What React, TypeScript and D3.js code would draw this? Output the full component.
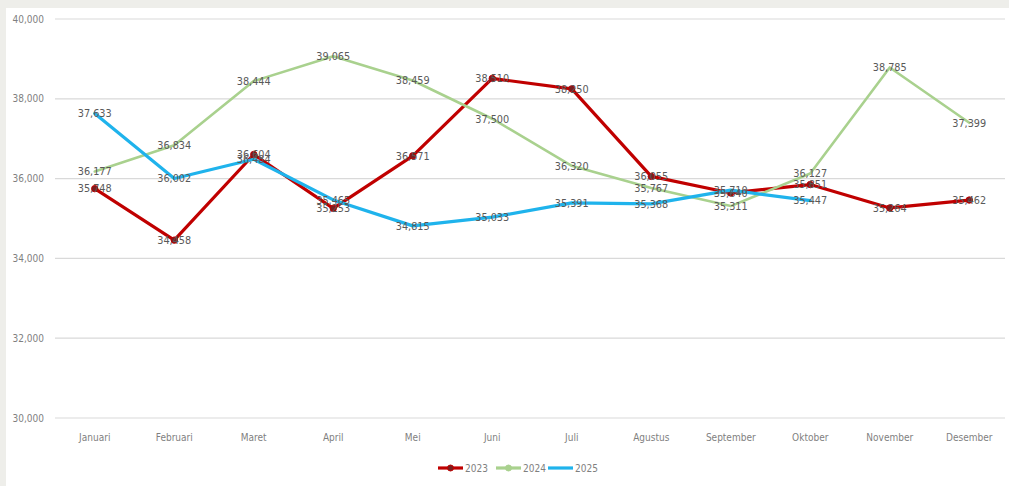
import React from "react";
import * as d3 from "d3";

const months = ["Januari", "Februari", "Maret", "April", "Mei", "Juni", "Juli", "Agustus", "September", "Oktober", "November", "Desember"];
const values2023 = [35748, 34458, 36604, 35253, 36571, 38510, 38250, 36055, 35640, 35851, 35264, 35462];
const values2024 = [36177, 36834, 38444, 39065, 38459, 37500, 36320, 35767, 35311, 36127, 38785, 37399];
const values2025: (number | null)[] = [37633, 36002, 36484, 35465, 34815, 35033, 35391, 35368, 35710, 35447, null, null];
const yTicks = [30000, 32000, 34000, 36000, 38000, 40000];

const W = 1009;
const H = 486;
const FONT = "'Liberation Sans Narrow', 'DejaVu Sans Condensed', 'Liberation Sans', sans-serif";

const series = [
  { name: "2023", values: values2023 as (number | null)[], color: "#C00000", width: 3.2, marker: true },
  { name: "2024", values: values2024 as (number | null)[], color: "#A9D18E", width: 2.6, marker: false },
  { name: "2025", values: values2025, color: "#1FB3EC", width: 3.2, marker: false },
];

export default function App() {
  const x = d3.scaleBand<string>().domain(months).range([55, 1009]);
  const y = d3.scaleLinear().domain([30000, 40000]).range([418, 19]);
  const fmt = d3.format(",");
  const cx = (m: string) => (x(m) ?? 0) + x.bandwidth() / 2;

  const line = d3
    .line<{ m: string; v: number | null }>()
    .defined((d) => d.v != null)
    .x((d) => cx(d.m))
    .y((d) => y(d.v as number));

  const legendItems = [
    { s: series[0], x0: 438 },
    { s: series[1], x0: 496 },
    { s: series[2], x0: 548 },
  ];

  return (
    <svg width={W} height={H} style={{ position: "absolute", left: 0, top: 0, display: "block" }}>
      <rect x={0} y={0} width={W} height={H} fill="#EEEEEA" />
      <rect x={6} y={8} width={W - 6} height={H - 8} fill="#FFFFFF" />

      {yTicks.map((t) => (
        <g key={t}>
          <line x1={55} x2={1005} y1={y(t)} y2={y(t)} stroke="#D9D9D9" strokeWidth={1.2} />
          <text x={44} y={y(t)} dy="0.35em" textAnchor="end" fontFamily={FONT} fontSize={10} fill="#7F7F7F">
            {fmt(t)}
          </text>
        </g>
      ))}

      {months.map((m) => (
        <text key={m} x={cx(m)} y={437} dy="0.35em" textAnchor="middle" fontFamily={FONT} fontSize={10} fill="#7F7F7F">
          {m}
        </text>
      ))}

      {series.map((s) => (
        <g key={s.name}>
          <path
            d={line(months.map((m, i) => ({ m, v: s.values[i] }))) || ""}
            fill="none"
            stroke={s.color}
            strokeWidth={s.width}
            strokeLinejoin="round"
            strokeLinecap="round"
          />
          {s.marker &&
            months.map((m, i) =>
              s.values[i] != null ? (
                <circle key={m} cx={cx(m)} cy={y(s.values[i] as number)} r={3.2} fill="#7A1F1F" stroke="#C00000" strokeWidth={1} />
              ) : null
            )}
        </g>
      ))}

      {series.map((s) =>
        months.map((m, i) =>
          s.values[i] != null ? (
            <text
              key={s.name + m}
              x={cx(m)}
              y={y(s.values[i] as number)}
              dy="0.35em"
              textAnchor="middle"
              fontFamily={FONT}
              fontSize={10.8}
              fill="#595959"
            >
              {fmt(s.values[i] as number)}
            </text>
          ) : null
        )
      )}

      {legendItems.map(({ s, x0 }) => (
        <g key={s.name}>
          <line x1={x0} x2={x0 + 25} y1={468} y2={468} stroke={s.color} strokeWidth={3.2} />
          {s.name !== "2025" && (
            <circle cx={x0 + 12.5} cy={468} r={3} fill={s.name === "2023" ? "#7A1F1F" : "#A9D18E"} stroke={s.color} />
          )}
          <text x={x0 + 27} y={468} dy="0.35em" fontFamily={FONT} fontSize={10} fill="#7F7F7F">
            {s.name}
          </text>
        </g>
      ))}
    </svg>
  );
}
